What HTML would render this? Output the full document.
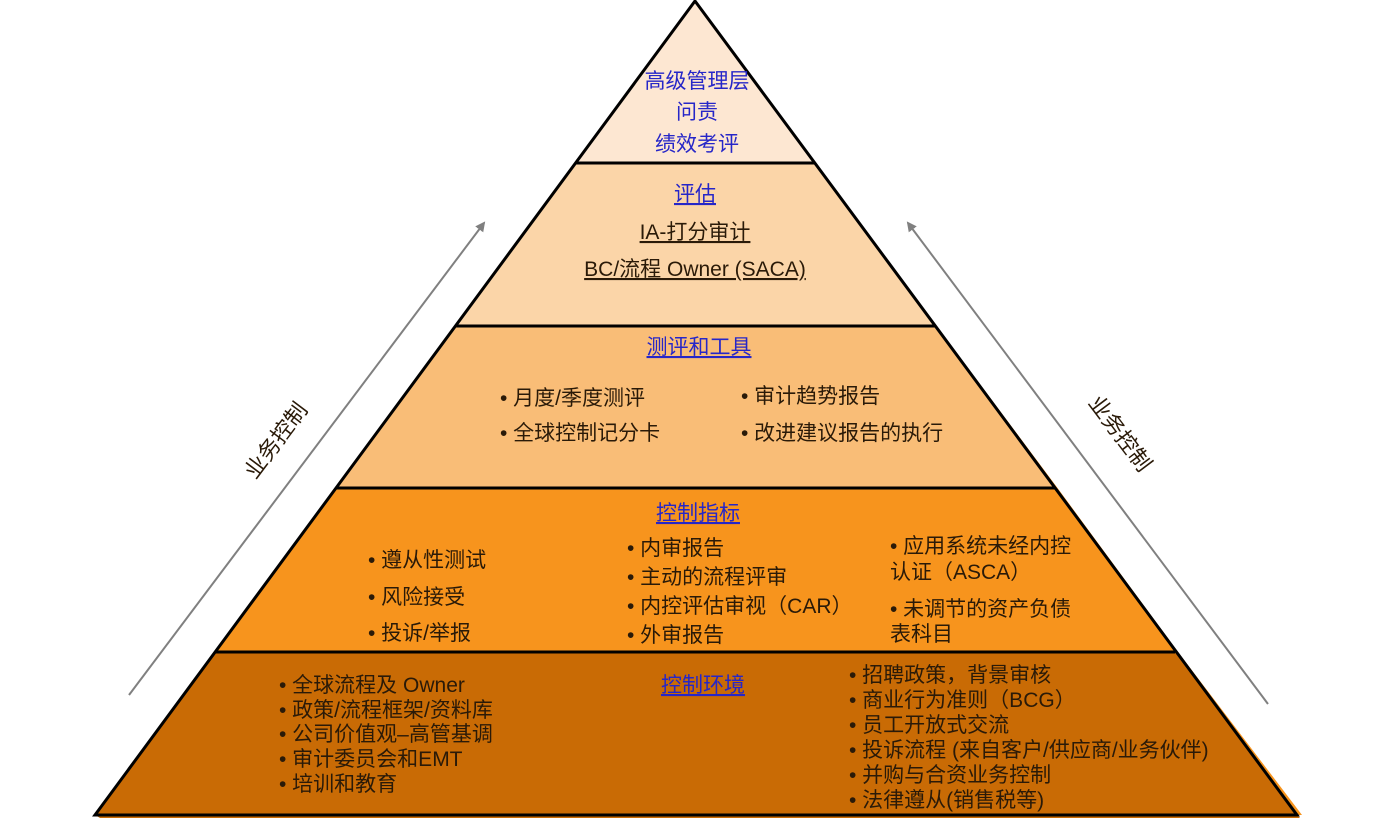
<!DOCTYPE html>
<html><head><meta charset="utf-8"><style>
html,body{margin:0;padding:0;background:#fff;}
svg text{font-family:"Liberation Sans","Noto Sans CJK SC",sans-serif;font-size:21px;fill:#2a1a08;}
.b{fill:#2626c8;}
.u{text-decoration:underline;}
</style></head><body>
<svg width="1377" height="823" viewBox="0 0 1377 823" xmlns="http://www.w3.org/2000/svg">
<defs>
<marker id="ah" markerWidth="10" markerHeight="10" refX="8" refY="5" orient="auto" markerUnits="userSpaceOnUse">
<path d="M0,0 L10,5 L0,10 z" fill="#808080"/></marker>
</defs>
<polygon points="938,328 1059,490 1178,652 1302,815 1297,815 1175,651 1056,488 935,326" fill="#f7941d"/>
<polygon points="100,818 1300,818 1297,815 95,815" fill="#c96b05"/>
<polygon points="695,1 815,163 575,163" fill="#fde7d2"/>
<polygon points="575,163 815,163 936,326 455,326" fill="#fbd5a8"/>
<polygon points="455,326 936,326 1055,488 336,488" fill="#f9bd77"/>
<polygon points="336,488 1055,488 1175,651 216,651" fill="#f7941d"/>
<polygon points="216,651 1175,651 1297,815 95,815" fill="#c96b05"/>
<g stroke="#000" stroke-width="3" fill="none">
<polygon points="695,1 1297,815 95,815"/>
<line x1="575" y1="163" x2="815" y2="163"/>
<line x1="455" y1="326" x2="936" y2="326"/>
<line x1="336" y1="488" x2="1055" y2="488"/>
<line x1="216" y1="652" x2="1175" y2="652"/>
</g>
<line x1="129" y1="695" x2="484" y2="223" stroke="#808080" stroke-width="2" marker-end="url(#ah)"/>
<line x1="1268" y1="704" x2="908" y2="223" stroke="#808080" stroke-width="2" marker-end="url(#ah)"/>
<text x="0" y="0" text-anchor="middle" transform="translate(282,445) rotate(-53)" style="font-size:22px">业务控制</text>
<text x="0" y="0" text-anchor="middle" transform="translate(1114,438) rotate(53)" style="font-size:22px">业务控制</text>
<text class="b" x="697" y="88" text-anchor="middle">高级管理层</text>
<text class="b" x="697" y="119" text-anchor="middle">问责</text>
<text class="b" x="697" y="151" text-anchor="middle">绩效考评</text>
<text class="b u" x="695" y="201" text-anchor="middle">评估</text>
<text class="u" x="695" y="239" text-anchor="middle">IA-打分审计</text>
<text class="u" x="695" y="276" text-anchor="middle">BC/流程 Owner (SACA)</text>
<text class="b u" x="699" y="354" text-anchor="middle">测评和工具</text>
<text x="500" y="405">• 月度/季度测评</text>
<text x="500" y="440">• 全球控制记分卡</text>
<text x="741" y="403">• 审计趋势报告</text>
<text x="741" y="440">• 改进建议报告的执行</text>
<text class="b u" x="698" y="520" text-anchor="middle">控制指标</text>
<text x="368" y="567">• 遵从性测试</text>
<text x="368" y="604">• 风险接受</text>
<text x="368" y="640">• 投诉/举报</text>
<text x="627" y="555">• 内审报告</text>
<text x="627" y="584">• 主动的流程评审</text>
<text x="627" y="613">• 内控评估审视（CAR）</text>
<text x="627" y="642">• 外审报告</text>
<text x="890" y="553">•  应用系统未经内控</text>
<text x="890" y="579">认证（ASCA）</text>
<text x="890" y="616">•  未调节的资产负债</text>
<text x="890" y="641">表科目</text>
<text class="b u" x="703" y="692" text-anchor="middle">控制环境</text>
<text x="279" y="692">• 全球流程及 Owner</text>
<text x="279" y="717">• 政策/流程框架/资料库</text>
<text x="279" y="741">• 公司价值观–高管基调</text>
<text x="279" y="766">• 审计委员会和EMT</text>
<text x="279" y="791">• 培训和教育</text>
<text x="849" y="682">• 招聘政策，背景审核</text>
<text x="849" y="707">• 商业行为准则（BCG）</text>
<text x="849" y="732">• 员工开放式交流</text>
<text x="849" y="757">• 投诉流程 (来自客户/供应商/业务伙伴)</text>
<text x="849" y="782">• 并购与合资业务控制</text>
<text x="849" y="807">• 法律遵从(销售税等)</text>
</svg>
</body></html>
